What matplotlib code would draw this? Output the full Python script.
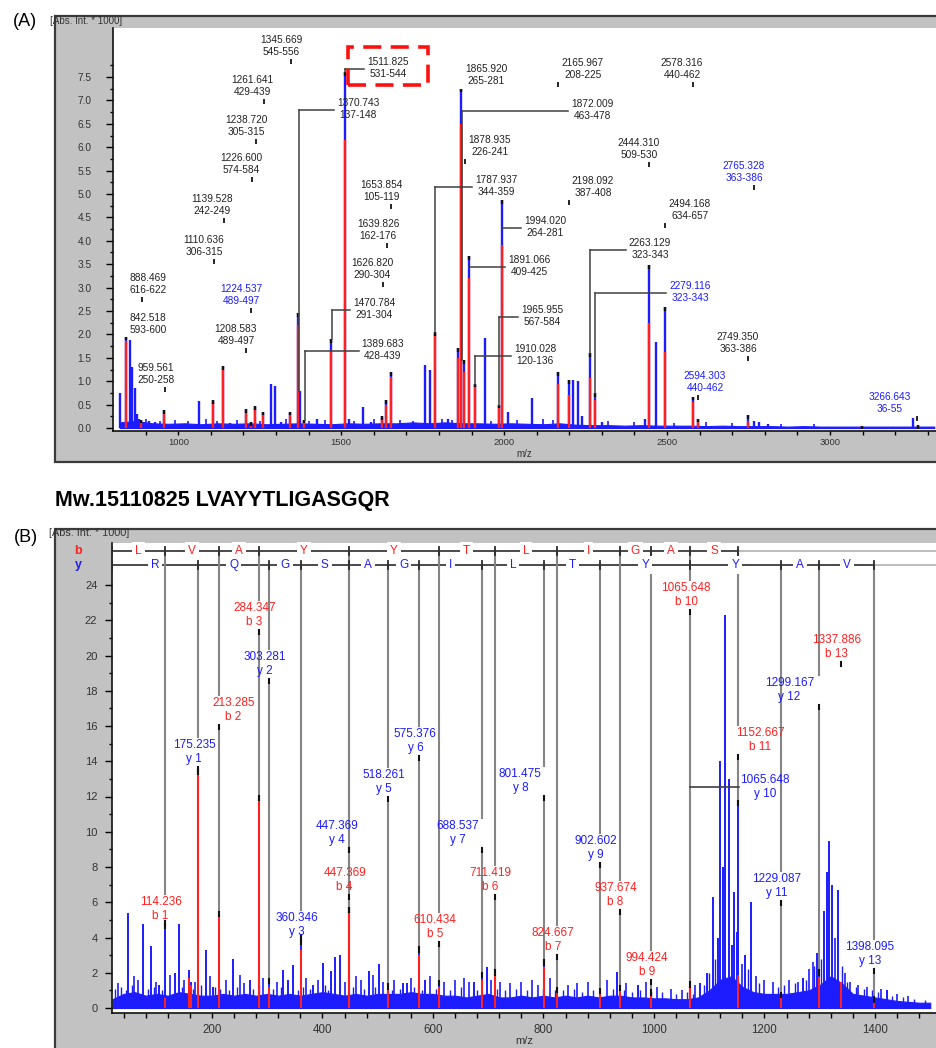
import numpy as np
import matplotlib.pyplot as plt
from matplotlib.patches import Rectangle

plt.rcParams['font.family'] = ['Liberation Sans', 'DejaVu Sans']

W, H = 936, 1048
BLUE = '#1c1cff'
RED = '#ff2020'
BOX = '#c2c2c2'
ION = '#858585'
INK = '#222222'

# ---------------- (A) peptide mass fingerprint (Abs. Int. * 1000) ----------------
a_mz = [821, 839.5, 852, 856, 859, 867, 873, 879, 885, 910, 928, 956,
        1064, 1106, 1137, 1159, 1208, 1223, 1235, 1260, 1284, 1297, 1315,
        1343, 1367, 1373, 1386, 1426, 1469, 1512, 1524, 1567, 1592, 1626,
        1638, 1654, 1758, 1773, 1788, 1828, 1858, 1868, 1876, 1891, 1910,
        1941, 1984, 1993, 2012, 2085, 2165, 2199, 2212, 2227, 2240, 2263,
        2279, 2300, 2432, 2445, 2466, 2494, 2580, 2595, 2748, 2767, 2782,
        2810, 3098, 3254, 3269]
a_int = [0.75, 1.95, 1.87, 0.8, 1.3, 0.85, 0.3, 0.2, 0.18, 0.15, 0.12, 0.38,
         0.57, 0.6, 1.32, 0.1, 0.4, 0.12, 0.47, 0.35, 0.95, 0.9, 0.12,
         0.35, 2.45, 0.8, 0.18, 0.2, 1.9, 7.6, 0.2, 0.45, 0.12, 0.25,
         0.6, 1.2, 1.35, 1.25, 2.05, 0.2, 1.7, 7.25, 1.45, 3.67, 0.95,
         1.92, 0.5, 4.87, 0.35, 0.65, 1.2, 1.03, 1.03, 1.0, 0.25, 1.6,
         0.75, 0.12, 0.2, 3.48, 1.84, 2.58, 0.67, 0.2, 0.28, 0.15, 0.12,
         0.08, 0.05, 0.22, 0.06]
a_red = [0, 1.85, 0, 0, 0, 0, 0, 0, 0.15, 0, 0, 0.3,
         0, 0.55, 1.25, 0, 0.35, 0.1, 0.4, 0.3, 0, 0, 0,
         0.3, 2.2, 0, 0.15, 0, 1.65, 6.15, 0, 0, 0, 0.22,
         0.5, 1.1, 0, 0, 2.0, 0, 1.5, 6.5, 1.2, 3.2, 0.9,
         0, 0.45, 3.9, 0, 0, 0.95, 0.7, 0, 0, 0, 1.07,
         0.6, 0, 0, 2.24, 0, 1.62, 0.55, 0.15, 0.15, 0, 0,
         0, 0.05, 0, 0.05]
a_spike_mz = [900, 945, 990, 1030, 1085, 1120, 1180, 1250, 1330, 1400,
              1450, 1540, 1600, 1680, 1720, 1810, 1840, 1960, 2040, 2120,
              2150, 2320, 2400, 2520, 2620, 2700, 2850, 2950]
a_spike_int = [0.2, 0.15, 0.18, 0.15, 0.2, 0.15, 0.18, 0.15, 0.2, 0.15,
               0.18, 0.15, 0.2, 0.18, 0.15, 0.2, 0.18, 0.15, 0.18, 0.2,
               0.18, 0.15, 0.12, 0.1, 0.12, 0.1, 0.08, 0.08]
a_noise_mz = list(range(820, 3321, 50))
a_noise = [0.12, 0.15, 0.1, 0.09, 0.1, 0.08, 0.1, 0.09, 0.1, 0.08,
           0.09, 0.1, 0.09, 0.08, 0.1, 0.09, 0.1, 0.1, 0.12, 0.1,
           0.12, 0.1, 0.1, 0.09, 0.1, 0.09, 0.08, 0.1, 0.07, 0.06,
           0.06, 0.05, 0.06, 0.05, 0.05, 0.05, 0.04, 0.05, 0.04, 0.04,
           0.04, 0.03, 0.04, 0.03, 0.03, 0.03, 0.03, 0.03, 0.03, 0.03,
           0.03]

a_lab_mass = ['1345.669', '1261.641', '1238.720', '1226.600', '1139.528', '1110.636',
              '888.469', '1224.537', '842.518', '1208.583', '959.561', '1511.825',
              '1370.743', '1653.854', '1639.826', '1626.820', '1470.784', '1389.683',
              '1865.920', '1872.009', '1878.935', '1787.937', '1994.020', '1891.066',
              '1965.955', '1910.028', '2165.967', '2198.092', '2578.316', '2444.310',
              '2765.328', '2494.168', '2263.129', '2279.116', '2749.350', '2594.303',
              '3266.643']
a_lab_range = ['545-556', '429-439', '305-315', '574-584', '242-249', '306-315',
               '616-622', '489-497', '593-600', '489-497', '250-258', '531-544',
               '137-148', '105-119', '162-176', '290-304', '291-304', '428-439',
               '265-281', '463-478', '226-241', '344-359', '264-281', '409-425',
               '567-584', '120-136', '208-225', '387-408', '440-462', '509-530',
               '363-386', '634-657', '323-343', '323-343', '363-386', '440-462',
               '36-55']
a_lab_blue = ['1224.537', '2765.328', '2279.116', '2594.303', '3266.643']

# where the annotations sit (pixels of the figure) and how they point to the peak
a_lab_x = [281, 252, 246, 241, 212, 204, 148, 241, 148, 236, 156, 388,
           358, 381, 378, 372, 374, 383, 486, 592, 490, 496, 545, 529,
           542, 535, 583, 593, 682, 639, 744, 690, 650, 690, 738, 705, 890]
a_lab_y = [40, 80, 120, 158, 199, 240, 278, 289, 318, 329, 368, 62,
           103, 185, 224, 263, 303, 344, 69, 104, 140, 180, 221, 260,
           310, 349, 63, 181, 63, 143, 166, 204, 243, 286, 337, 376, 397]
a_lab_link = ['m', 'm', 'm', 'm', 'm', 'm', 'm', 'm', '-', 'm', 'm', 'b',
              'b', 'm', 'm', 'm', 'b', 'b', '-', 'b', 'm', 'b', 'b', 'b',
              'b', 'b', 'm', 'm', 'm', 'm', 'm', 'm', 'b', 'b', 'm', 'm', 'm']
a_anchor_fix = {'1965.955': 1984}

# ---------------- (B) MS/MS of LVAYYTLIGASGQR ----------------
seq_b = list('LVAYYTLIGAS')
seq_y = list('RQGSAGILTYYAV')
b_ion_mz = [114.236, 213.285, 284.347, 447.369, 610.434, 711.419, 824.667,
            937.674, 994.424, 1065.648, 1152.667, 1337.886]
b_ion_name = ['b 1', 'b 2', 'b 3', 'b 4', 'b 5', 'b 6', 'b 7', 'b 8', 'b 9',
              'b 10', 'b 11', 'b 13']
b_ion_int = [4.7, 5.2, 11.8, 5.45, 1.3, 1.9, 0.9, 1.0, 0.75, 1.2, 11.5, 1.5]
b_ion_red = [0.55, 5.2, 11.8, 5.45, 1.2, 1.9, 0.9, 1.0, 0.75, 1.2, 1.9, 1.5]
y_ion_mz = [175.235, 303.281, 360.346, 447.369, 518.261, 575.376, 688.537,
            801.475, 902.602, 1065.648, 1229.087, 1299.167, 1398.095]
y_ion_name = ['y 1', 'y 2', 'y 3', 'y 4', 'y 5', 'y 6', 'y 7', 'y 8', 'y 9',
              'y 10', 'y 11', 'y 12', 'y 13']
y_ion_int = [13.3, 1.4, 3.9, 5.45, 1.1, 3.2, 1.75, 2.45, 0.85, 1.2, 0.6, 1.9, 0.35]
y_ion_red = [13.3, 1.2, 3.3, 5.45, 1.1, 3.0, 1.6, 2.35, 0.85, 1.2, 0.6, 1.75, 0.35]

b_spec_mz = [48, 75, 90, 104, 133, 140, 158, 162, 189, 202,
             238, 269, 329, 338, 347, 383, 401, 415, 423, 432,
             484, 502, 546, 553, 586, 674, 698, 933, 971, 1083,
             1096, 1107, 1116, 1119, 1125, 1129, 1136, 1141, 1145, 1150,
             1165, 1176, 1270, 1295, 1308, 1313, 1317, 1322, 1333, 1422]
b_spec_int = [5.4, 4.75, 3.5, 1.3, 2.0, 4.75, 2.15, 1.5, 3.3, 1.2,
              2.8, 1.6, 2.15, 1.6, 2.45, 1.3, 2.55, 2.1, 2.9, 3.0,
              2.1, 2.5, 1.4, 1.4, 1.6, 1.45, 2.3, 2.05, 1.3, 1.4,
              2.0, 6.3, 4.0, 14.0, 8.0, 22.3, 13.0, 3.6, 6.6, 4.3,
              3.0, 6.0, 1.7, 3.1, 5.5, 7.7, 9.5, 7.0, 6.7, 1.0]
b_extra_red_mz = [158, 162]
b_extra_red = [1.7, 1.3]
b_spike_mz = [30, 58, 66, 98, 124, 150, 170, 196, 225, 250,
              258, 292, 318, 370, 392, 440, 460, 470, 492, 510,
              530, 560, 595, 620, 640, 656, 665, 705, 722, 740,
              760, 780, 790, 812, 845, 860, 880, 915, 950, 985,
              1005, 1030, 1050, 1075, 1160, 1185, 1200, 1215, 1245, 1260,
              1280, 1287, 1328, 1345, 1355, 1370, 1385, 1410, 1440, 1460]
b_spike_int = [1.4, 1.8, 1.6, 1.5, 1.9, 1.6, 1.5, 1.8, 1.6, 1.9,
               1.4, 1.7, 1.5, 1.7, 1.6, 1.5, 1.8, 1.6, 1.9, 1.5,
               1.6, 1.7, 1.8, 1.5, 1.6, 1.7, 1.5, 1.6, 1.5, 1.4,
               1.5, 1.6, 1.3, 1.7, 1.3, 1.4, 1.5, 1.6, 1.4, 1.5,
               1.2, 1.1, 1.0, 1.3, 2.5, 1.8, 1.6, 1.5, 1.6, 1.5,
               2.2, 2.6, 4.0, 2.0, 1.5, 1.3, 1.2, 1.1, 0.8, 0.7]
# smaller grass between the spikes
b_fuzz_mz = [25, 35, 45, 55, 85, 95, 110, 145, 165, 180,
             205, 215, 230, 245, 275, 285, 310, 325, 355, 365,
             378, 405, 410, 455, 475, 495, 525, 540, 565, 580,
             605, 630, 650, 680, 715, 730, 750, 770, 800, 820,
             835, 855, 870, 890, 925, 945, 960, 975, 995, 1015,
             1040, 1060, 1070, 1090, 1100, 1110, 1170, 1190, 1225, 1235,
             1255, 1275, 1290, 1302, 1340, 1350, 1365, 1380, 1395, 1405,
             1430, 1450, 1470, 1490]
b_fuzz_int = [1.1, 1.2, 1.0, 1.3, 1.1, 1.2, 1.0, 1.2, 1.1, 1.3,
              1.2, 1.1, 1.0, 1.2, 1.1, 1.3, 1.1, 1.2, 1.0, 1.2,
              1.1, 1.3, 1.0, 1.2, 1.1, 1.2, 1.0, 1.1, 1.2, 1.0,
              1.1, 1.0, 1.2, 1.0, 1.1, 1.0, 1.1, 1.0, 1.1, 1.0,
              1.0, 1.1, 0.9, 1.0, 1.1, 1.0, 0.9, 1.0, 0.9, 0.9,
              0.8, 0.9, 0.8, 1.3, 2.0, 2.8, 2.2, 1.4, 1.2, 1.3,
              1.4, 1.6, 2.4, 2.8, 2.4, 1.5, 1.2, 1.1, 1.0, 0.9,
              0.7, 0.6, 0.5, 0.45]
b_noise_mz = list(range(20, 1501, 20))
b_noise = [0.5, 0.8, 0.9, 0.7, 0.8, 0.7, 0.9, 0.8, 0.7, 0.7,
           0.8, 0.7, 0.8, 0.7, 0.8, 0.7, 0.8, 0.7, 0.8, 0.9,
           0.8, 0.7, 0.8, 0.7, 0.8, 0.8, 0.8, 0.9, 0.8, 0.8,
           0.7, 0.7, 0.6, 0.7, 0.8, 0.6, 0.6, 0.7, 0.6, 0.7,
           0.6, 0.7, 0.6, 0.7, 0.6, 0.7, 0.7, 0.6, 0.6, 0.55,
           0.55, 0.5, 0.5, 0.6, 1.0, 1.6, 1.8, 1.2, 0.9, 0.8,
           0.8, 0.8, 0.9, 1.0, 1.3, 1.8, 1.4, 0.8, 0.7, 0.6,
           0.5, 0.4, 0.35, 0.3, 0.3]

# label placement for (B): first text line (px) and shift of the label centre (px)
b_lab_y = [902, 703, 608, 873, 920, 873, 933, 888, 958, 588, 733, 640]
y_lab_y = [745, 657, 918, 826, 775, 734, 826, 774, 841, 780, 879, 683, 947]
b_lab_dx = [-4, 14, -4, -4, -4, -4, -4, -4, -4, -4, 22, -4]
y_lab_dx = [-4, -4, -4, -12, -4, -4, -24, -24, -4, 75, -4, -30, -4]


fig = plt.figure(figsize=(W / 100, H / 100), dpi=100)


def px_rect(x0, y0, x1, y1):
    return [x0 / W, 1 - y1 / H, (x1 - x0) / W, (y1 - y0) / H]


for x0, y0, x1, y1 in [(55, 16, 960, 462), (55, 529, 960, 1070)]:
    fig.patches.append(Rectangle((x0 / W, 1 - y1 / H), (x1 - x0) / W, (y1 - y0) / H,
                                 transform=fig.transFigure, facecolor=BOX,
                                 edgecolor='#3a3a3a', lw=1.6, zorder=-5))

fig.text(25 / W, 1 - 22 / H, '(A)', fontsize=13, ha='center', va='center')
fig.text(26 / W, 1 - 537 / H, '(B)', fontsize=13, ha='center', va='center')
fig.text(50 / W, 1 - 21 / H, '[Abs. Int. * 1000]', fontsize=7, va='center', color='#333333')
fig.text(49 / W, 1 - 533 / H, '[Abs. Int. * 1000]', fontsize=7.8, va='center', color='#333333')
fig.text(222 / W, 1 - 500 / H, 'Mw.15110825 LVAYYTLIGASGQR', fontsize=15.5,
         fontweight='bold', ha='center', va='center')
fig.text(524 / W, 1 - 454 / H, 'm/z', fontsize=7, ha='center', va='center', color='#333333')
fig.text(524 / W, 1 - 1041 / H, 'm/z', fontsize=8, ha='center', va='center', color='#333333')


def style_axes(ax):
    for s in ['top', 'right']:
        ax.spines[s].set_visible(False)
    for s in ['left', 'bottom']:
        ax.spines[s].set_color('#111111')
        ax.spines[s].set_linewidth(1.2)


# ---------- panel A ----------
axA = fig.add_axes(px_rect(113, 28, 936, 431))
ax_x = lambda px: 1000 + (px - 178.3) / 0.32585
ax_y = lambda py: (428 - py) / 46.8
axA.set_xlim(ax_x(113), ax_x(936))
axA.set_ylim(ax_y(431), ax_y(28))
style_axes(axA)
axA.set_xticks([1000, 1500, 2000, 2500, 3000])
axA.set_xticks(np.arange(900, 3301, 100), minor=True)
axA.set_yticks(np.arange(0, 7.51, 0.5))
axA.set_yticklabels(['%.1f' % v for v in np.arange(0, 7.51, 0.5)])
axA.set_yticks(np.arange(0, 7.76, 0.25), minor=True)
axA.tick_params(axis='y', which='major', direction='out', length=5, width=1,
                labelsize=7.3, pad=10.5, labelcolor='#333333')
axA.tick_params(axis='y', which='minor', direction='out', length=2.5, width=1)
axA.tick_params(axis='x', which='both', direction='out', length=3, width=1,
                labelsize=6.8, pad=2, labelcolor='#333333')

axA.fill_between(a_noise_mz, 0, a_noise, color=BLUE, lw=0.8, zorder=1)
axA.vlines(a_spike_mz, 0, a_spike_int, color=BLUE, lw=1.2, zorder=1)
axA.vlines(a_mz, 0, a_int, color=BLUE, lw=1.7, zorder=2)
red_idx = [i for i, r in enumerate(a_red) if r > 0]
axA.vlines([a_mz[i] for i in red_idx], 0, [a_red[i] for i in red_idx], color=RED, lw=1.7, zorder=3)
axA.vlines([a_mz[i] for i in red_idx], [a_int[i] - 0.08 for i in red_idx],
           [a_int[i] for i in red_idx], color='#111111', lw=1.7, zorder=3)


def a_top(m):
    d = np.abs(np.array(a_mz) - m)
    return a_int[d.argmin()] if d.min() < 5 else 0


for i, mass in enumerate(a_lab_mass):
    col = BLUE if mass in a_lab_blue else INK
    cx, y1, link = a_lab_x[i], a_lab_y[i], a_lab_link[i]
    axA.text(ax_x(cx), ax_y(y1), mass, color=col, fontsize=7.3, ha='center', va='center', zorder=5)
    axA.text(ax_x(cx), ax_y(y1 + 12), a_lab_range[i], color=col, fontsize=7.3,
             ha='center', va='center', zorder=5)
    anchor = a_anchor_fix.get(mass, float(mass))
    if link == 'm':
        axA.plot([anchor, anchor], [ax_y(y1 + 20), ax_y(y1 + 23)], color=INK, lw=1.4, zorder=4)
    elif link == 'b':
        yb = ax_y(y1 + 7)
        axA.plot([anchor, ax_x(cx - 24)], [yb, yb], color='#404040', lw=1.1, zorder=4)
        top = a_top(anchor)
        if top < yb:
            axA.plot([anchor, anchor], [yb, top], color='#404040', lw=1.1, zorder=4)

# red dashed highlight around 1511.825
fig.patches.append(Rectangle((348 / W, 1 - 85 / H), 80 / W, 38 / H, transform=fig.transFigure,
                             fill=False, edgecolor='#ff1010', lw=2.6,
                             linestyle=(0, (5, 2.6)), zorder=10))

# ---------- panel B ----------
axB = fig.add_axes(px_rect(112, 543, 936, 1013))
bx = lambda px: (px - 101.5) / 0.5525
by = lambda py: (1008 - py) / 17.625
axB.set_xlim(bx(112), bx(936))
axB.set_ylim(by(1013), by(543))
style_axes(axB)
axB.set_xticks(np.arange(200, 1401, 200))
axB.set_xticks(np.arange(40, 1501, 40), minor=True)
axB.set_yticks(np.arange(0, 24.1, 2))
axB.set_yticks(np.arange(0, 23.1, 1), minor=True)
axB.tick_params(axis='y', which='major', direction='out', length=5, width=1,
                labelsize=8, pad=5.5, labelcolor='#333333')
axB.tick_params(axis='y', which='minor', direction='out', length=2.5, width=1)
axB.tick_params(axis='x', which='both', direction='out', length=3.6, width=1,
                labelsize=8.3, pad=4, labelcolor='#333333')

axB.fill_between(b_noise_mz, 0, b_noise, color=BLUE, lw=0.8, zorder=1)
axB.vlines(b_fuzz_mz, 0, b_fuzz_int, color=BLUE, lw=1.0, zorder=1)
axB.vlines(b_spike_mz, 0, b_spike_int, color=BLUE, lw=1.2, zorder=1)
axB.vlines(b_spec_mz, 0, b_spec_int, color=BLUE, lw=1.4, zorder=2)
axB.vlines(b_ion_mz + y_ion_mz, 0, b_ion_int + y_ion_int, color=BLUE, lw=1.4, zorder=2)
axB.vlines(b_ion_mz + y_ion_mz + b_extra_red_mz, 0, b_ion_red + y_ion_red + b_extra_red,
           color=RED, lw=1.5, zorder=3)

# sequence ladders
row_b, row_y = by(551), by(565)
tick = 4 / 17.625
x_left = bx(112)
fig.text(78 / W, 1 - 551 / H, 'b', color=RED, fontsize=9, fontweight='bold', ha='center', va='center')
fig.text(78 / W, 1 - 565 / H, 'y', color=BLUE, fontsize=9, fontweight='bold', ha='center', va='center')
for row, stops, seq, col in [(row_b, [x_left] + b_ion_mz[:11], seq_b, RED),
                             (row_y, [x_left] + y_ion_mz, seq_y, BLUE)]:
    axB.plot([stops[0], stops[-1]], [row, row], color='#3c3c3c', lw=1.3, zorder=4)
    axB.plot([stops[-1], bx(936)], [row, row], color='#b8b8b8', lw=1.3, zorder=4)
    for s in stops:
        axB.plot([s, s], [row - tick, row + tick], color='#2a2a2a', lw=1.3, zorder=5)
    for a, b, ch in zip(stops[:-1], stops[1:], seq):
        axB.text((a + b) / 2, row, ch, color=col, fontsize=8.5, ha='center', va='center',
                 zorder=6, bbox=dict(facecolor='white', edgecolor='none', pad=2.2))

# fragment annotations
ions = []
for i, m in enumerate(b_ion_mz):
    ions.append((m, b_ion_name[i], b_ion_int[i], b_lab_y[i], b_lab_dx[i], RED,
                 row_b if i < 11 else None))
for i, m in enumerate(y_ion_mz):
    ions.append((m, y_ion_name[i], y_ion_int[i], y_lab_y[i], y_lab_dx[i], BLUE,
                 row_y if y_ion_name[i] != 'y 10' else None))

for m, name, top, y1, dx, col, row in ions:
    cx = m + dx / 0.5525
    axB.text(cx, by(y1), '%.3f' % m, color=col, fontsize=8.5, ha='center', va='center', zorder=7)
    axB.text(cx, by(y1 + 14), name, color=col, fontsize=8.5, ha='center', va='center', zorder=7)
    if name == 'y 10':
        yb = by(y1 + 7)
        axB.plot([m, cx - 26 / 0.5525], [yb, yb], color='#404040', lw=1.2, zorder=4)
        continue
    if row is not None:
        axB.plot([m, m], [row, by(y1 - 8)], color=ION, lw=1.5, zorder=4)
        axB.plot([m, m], [by(y1 + 26), top], color=ION, lw=1.5, zorder=4)
        axB.plot([m, m], [top + 0.25, top], color='#111111', lw=1.5, zorder=5)
    axB.plot([m, m], [by(y1 + 22), by(y1 + 26)], color='#111111', lw=1.5, zorder=5)

fig.savefig('out.png', dpi=100)
